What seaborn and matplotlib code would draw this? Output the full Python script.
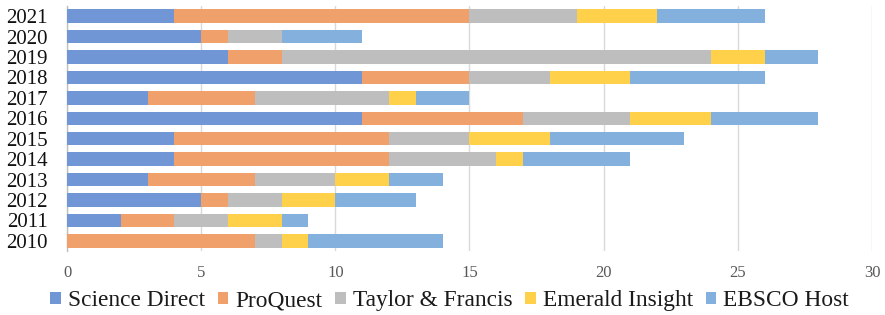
import matplotlib
matplotlib.use("Agg")
import matplotlib.pyplot as plt
import seaborn as sns
import pandas as pd
import numpy as np
from matplotlib.patches import Patch

years = ["2021", "2020", "2019", "2018", "2017", "2016", "2015", "2014", "2013", "2012", "2011", "2010"]
science_direct = [4, 5, 6, 11, 3, 11, 4, 4, 3, 5, 2, 0]
proquest =       [11, 1, 2, 4, 4, 6, 8, 8, 4, 1, 2, 7]
taylor_francis = [4, 2, 16, 3, 5, 4, 3, 4, 3, 2, 2, 1]
emerald =        [3, 0, 2, 3, 1, 3, 3, 1, 2, 2, 2, 1]
ebsco =          [4, 3, 2, 5, 2, 4, 5, 4, 2, 3, 1, 5]

series = ["Science Direct", "ProQuest", "Taylor & Francis", "Emerald Insight", "EBSCO Host"]
colors = ["#7196D6", "#F0A06A", "#BEBEBE", "#FFD04A", "#84B0DE"]

df = pd.DataFrame({"year": years, "Science Direct": science_direct, "ProQuest": proquest,
                   "Taylor & Francis": taylor_francis, "Emerald Insight": emerald,
                   "EBSCO Host": ebsco})
cum = df[series].cumsum(axis=1)
cum["year"] = df["year"]

sns.set_style("white")
plt.rcParams["font.family"] = ["Liberation Serif", "DejaVu Serif"]

fig = plt.figure(figsize=(8.85, 3.15), dpi=100)
ax = fig.add_axes([67/885, 1-251/315, (872-67)/885, 245/315])

for s, c in reversed(list(zip(series, colors))):
    sns.barplot(data=cum, x=s, y="year", order=years, color=c, orient="h",
                width=0.66, linewidth=0, saturation=1, ax=ax, zorder=3)

ax.set_xlim(0, 30)
ax.set_xticks([0, 5, 10, 15, 20, 25, 30])
ax.set_xlabel("")
ax.set_ylabel("")
ax.grid(axis="x", color="#D9D9D9", linewidth=1, zorder=0)
ax.set_axisbelow(True)
for sp in ["top", "right", "bottom"]:
    ax.spines[sp].set_visible(False)
ax.spines["left"].set_color("#BFBFBF")
ax.spines["left"].set_linewidth(1)
ax.tick_params(axis="y", length=0, labelsize=15, labelcolor="#111111", pad=14)
ax.tick_params(axis="x", length=0, labelsize=12, labelcolor="#595959", pad=10)

handles = [Patch(facecolor=c, edgecolor="none") for c in colors]
fig.legend(handles, series, loc="center", bbox_to_anchor=(0.508, 0.045), ncol=5, frameon=False,
           fontsize=16.8, handlelength=0.45, handleheight=0.45, handletextpad=0.3, columnspacing=0.55,
           labelcolor="#1a1a1a")

fig.savefig("out.png", dpi=100)
